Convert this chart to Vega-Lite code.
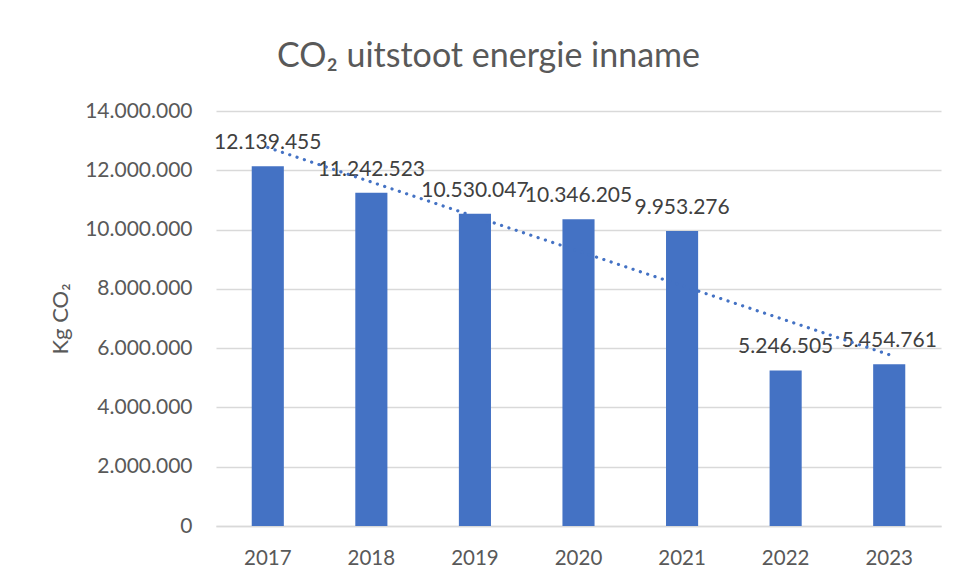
{
  "$schema": "https://vega.github.io/schema/vega-lite/v6.json",
  "width": 725,
  "height": 415,
  "autosize": {"type": "none"},
  "padding": {"left": 216, "top": 111, "right": 18, "bottom": 52},
  "background": "white",
  "config": {
    "view": {"stroke": null},
    "font": "Lato"
  },
  "title": {
    "text": "CO₂ uitstoot energie inname",
    "fontSize": 34,
    "font": "Lato",
    "fontWeight": "normal",
    "color": "#595959",
    "anchor": "middle",
    "dx": -90,
    "offset": 26
  },
  "data": {
    "values": [
      {"year": 2017, "value": 12139455, "label": "12.139.455"},
      {"year": 2018, "value": 11242523, "label": "11.242.523"},
      {"year": 2019, "value": 10530047, "label": "10.530.047"},
      {"year": 2020, "value": 10346205, "label": "10.346.205"},
      {"year": 2021, "value": 9953276, "label": "9.953.276"},
      {"year": 2022, "value": 5246505, "label": "5.246.505"},
      {"year": 2023, "value": 5454761, "label": "5.454.761"}
    ]
  },
  "encoding": {
    "x": {
      "field": "year",
      "type": "ordinal",
      "scale": {"paddingInner": 0.69, "paddingOuter": 0.345},
      "axis": {
        "title": null,
        "labelAngle": 0,
        "labelFontSize": 20.5,
        "labelColor": "#595959",
        "labelPadding": 22,
        "ticks": false,
        "domainColor": "#d9d9d9",
        "domainWidth": 1.3
      }
    },
    "y": {
      "field": "value",
      "type": "quantitative",
      "scale": {"domain": [0, 14000000]},
      "axis": {
        "title": "Kg CO₂",
        "titleFontSize": 22,
        "titleFontWeight": "normal",
        "titleColor": "#595959",
        "titlePadding": 12,
        "values": [0, 2000000, 4000000, 6000000, 8000000, 10000000, 12000000, 14000000],
        "labelExpr": "replace(format(datum.value, ',d'), /,/g, '.')",
        "labelFontSize": 21,
        "labelColor": "#595959",
        "labelPadding": 24,
        "ticks": false,
        "domain": false,
        "gridColor": "#d9d9d9",
        "gridWidth": 1.3
      }
    }
  },
  "layer": [
    {"mark": {"type": "bar", "color": "#4472C4"}},
    {
      "mark": {"type": "text", "baseline": "alphabetic", "dy": -17, "fontSize": 21, "color": "#404040"},
      "encoding": {"text": {"field": "label"}}
    },
    {
      "transform": [{"regression": "value", "on": "year"}],
      "mark": {"type": "line", "color": "#4472C4", "strokeWidth": 3.2, "strokeDash": [0.1, 7.6], "strokeCap": "round"},
      "encoding": {}
    }
  ]
}
